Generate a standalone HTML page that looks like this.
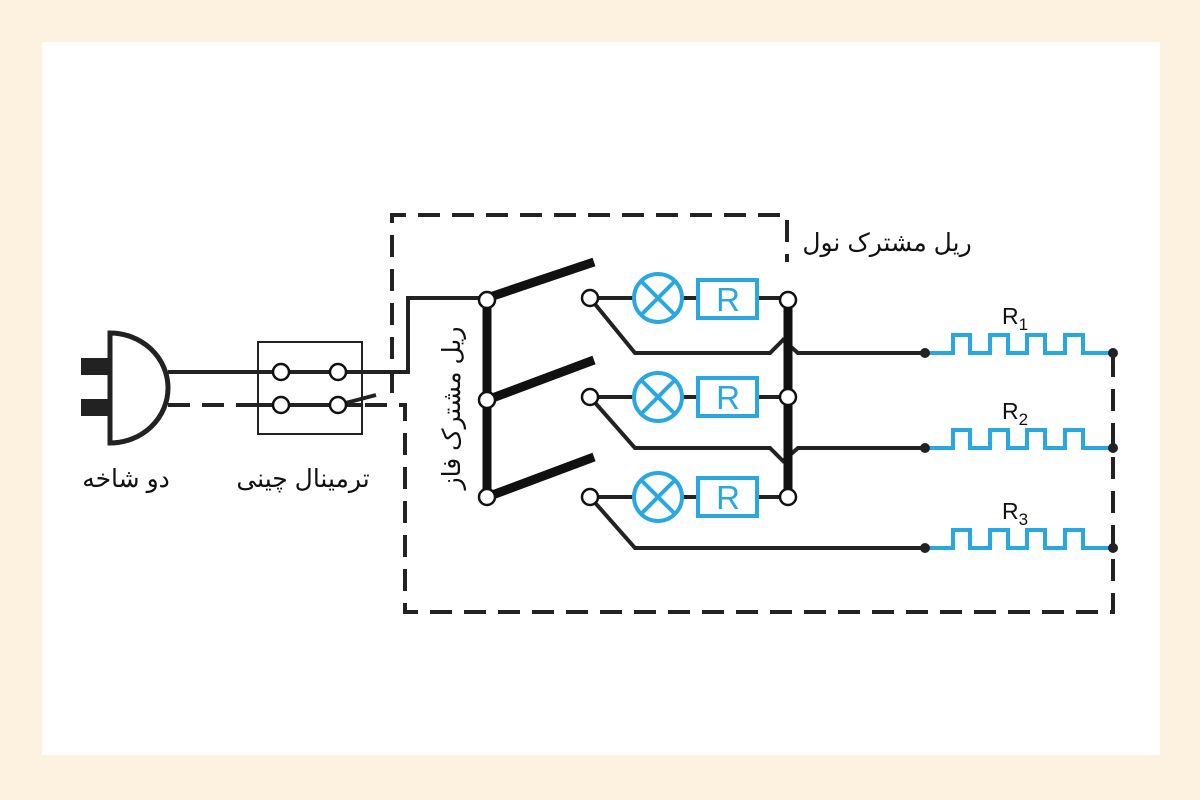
<!DOCTYPE html>
<html><head><meta charset="utf-8"><style>
html,body{margin:0;padding:0;width:1200px;height:800px;overflow:hidden;background:#fdf1df}
svg{display:block}
text{font-family:"Liberation Sans","Noto Sans CJK SC",sans-serif;fill:#111}
</style></head><body>
<svg width="1200" height="800" viewBox="0 0 1200 800">
<rect x="0" y="0" width="1200" height="800" fill="#fdf1df"/>
<rect x="42" y="42" width="1118" height="713" fill="#fff"/>
<g fill="none" stroke="#222" stroke-width="4">
 <path d="M392 393 V215 H787 V262" stroke-dasharray="22 12"/>
 <path d="M365 405 H405 V612 H1113 V352" stroke-dasharray="22 12"/>
 <path d="M168 405 H258" stroke-dasharray="22 12"/>
 <path d="M110 333 V443 A58 55 0 0 0 110 333 Z" stroke-width="5" fill="#fff"/>
 <path d="M168 372 H408 V298 H487"/>
 <path d="M258 405 H362"/>
 <path d="M338 405 L376 395"/>
 <path d="M590 298 H788 M590 397 H788 M590 497 H788"/>
 <path d="M590 298 L635 353 H770 L783 340 L798 353 H925"/>
 <path d="M590 397 L635 448 H770 L783 461 L798 448 H925"/>
 <path d="M590 497 L635 548 H925"/>
</g>
<rect x="258" y="342" width="104" height="92" fill="none" stroke="#222" stroke-width="2"/>
<rect x="81" y="358" width="29" height="17" fill="#222"/>
<rect x="81" y="399" width="29" height="17" fill="#222"/>
<g stroke="#111" stroke-width="9" fill="none">
 <path d="M487 298 V497"/>
 <path d="M788 300 V497"/>
 <path d="M487 298 L594 262 M487 400 L594 360 M487 497 L594 457"/>
</g>
<g stroke="#29a8e0" stroke-width="4" fill="#fff">
 <circle cx="658" cy="298" r="24"/><circle cx="658" cy="397" r="24"/><circle cx="658" cy="497" r="24"/>
 <rect x="698" y="280" width="59" height="38"/><rect x="698" y="378" width="59" height="38"/><rect x="698" y="478" width="59" height="38"/>
 <path d="M641 281 L675 315 M675 281 L641 315 M641 380 L675 414 M675 380 L641 414 M641 480 L675 514 M675 480 L641 514" fill="none"/>
</g>
<g font-size="33" text-anchor="middle">
 <text x="728" y="311" style="fill:#29a8e0">R</text>
 <text x="728" y="409" style="fill:#29a8e0">R</text>
 <text x="728" y="509" style="fill:#29a8e0">R</text>
</g>
<g stroke="#29a8e0" stroke-width="4" fill="none">
 <path d="M925 353 H953 V335 H970 V353 H990 V335 H1008 V353 H1027 V335 H1045 V353 H1065 V335 H1083 V353 H1113"/>
 <path d="M925 448 H953 V430 H970 V448 H990 V430 H1008 V448 H1027 V430 H1045 V448 H1065 V430 H1083 V448 H1113"/>
 <path d="M925 548 H953 V530 H970 V548 H990 V530 H1008 V548 H1027 V530 H1045 V548 H1065 V530 H1083 V548 H1113"/>
</g>
<g fill="#222">
 <circle cx="925" cy="353" r="5"/><circle cx="1113" cy="353" r="5"/>
 <circle cx="925" cy="448" r="5"/><circle cx="1113" cy="448" r="5"/>
 <circle cx="925" cy="548" r="5"/><circle cx="1113" cy="548" r="5"/>
</g>
<g fill="#fff" stroke="#111" stroke-width="2.5">
 <circle cx="281" cy="372" r="8"/><circle cx="338" cy="372" r="8"/>
 <circle cx="281" cy="405" r="8"/><circle cx="338" cy="405" r="8"/>
 <circle cx="487" cy="300" r="8"/><circle cx="487" cy="400" r="8"/><circle cx="487" cy="497" r="8"/>
 <circle cx="590" cy="298" r="8"/><circle cx="590" cy="397" r="8"/><circle cx="590" cy="497" r="8"/>
 <circle cx="788" cy="300" r="8"/><circle cx="788" cy="397" r="8"/><circle cx="788" cy="497" r="8"/>
</g>
<g font-size="23">
 <text x="1002" y="324">R<tspan font-size="17" dy="6">1</tspan></text>
 <text x="1002" y="419">R<tspan font-size="17" dy="6">2</tspan></text>
 <text x="1002" y="519">R<tspan font-size="17" dy="6">3</tspan></text>
</g>
<g font-size="25" text-anchor="middle" direction="rtl">
 <text x="126" y="487">دو شاخه</text>
 <text x="303" y="487">ترمینال چینی</text>
 <text x="887" y="251">ریل مشترک نول</text>
 <text transform="translate(460,408) rotate(-90)">ریل مشترک فاز</text>
</g>
</svg>
</body></html>
